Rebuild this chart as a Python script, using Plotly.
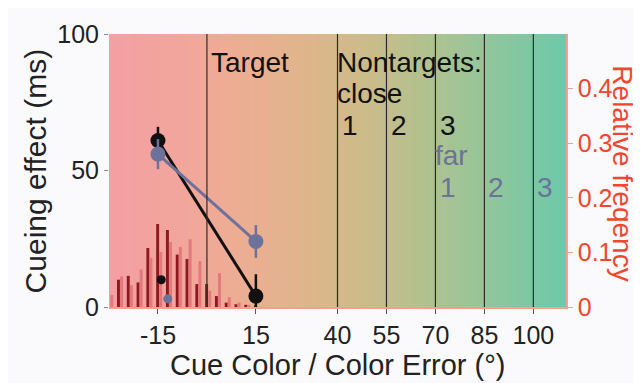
import numpy as np
import plotly.graph_objects as go

# ---------------- data ----------------
cue_colors = [-15, 15]
target_effect = [61, 4]          # black series
target_err = [5, 8]
nontarget_effect = [56, 24]      # gray-blue series
nontarget_err = [5.5, 6]

small_black_x = [-14]
small_black_y = [10]
small_gray_x = [-12]
small_gray_y = [3]

hist_bins = [-30, -27, -24, -21, -18, -15, -12, -9, -6, -3, 0, 3, 6, 9, 12, 15]
hist_dark = [0.0, 0.050, 0.057, 0.045, 0.108, 0.152, 0.141, 0.096, 0.088, 0.042, 0.042, 0.020, 0.008, 0.005, 0.004, 0.003]
hist_light = [0.022, 0.056, 0.040, 0.069, 0.090, 0.101, 0.119, 0.110, 0.124, 0.084, 0.030, 0.062, 0.018, 0.008, 0.004, 0.0]

x_ticks = [-15, 15, 40, 55, 70, 85, 100]
x_ticktext = ["-15", "15", "40", "55", "70", "85", "100"]
boundaries = [0, 40, 55, 70, 85, 100]
left_ticks = [0, 50, 100]
right_ticks = [0, 0.1, 0.2, 0.3, 0.4]
right_ticktext = ["0", "0.1", "0.2", "0.3", "0.4"]

FONT = "Liberation Sans, Arial, sans-serif"
BLACK = "#111111"
GRAY = "#6C729A"
RED = "#F0462D"
SALMON = "#F5A088"

fig = go.Figure()

# background gradient (heatmap on the right-hand axis layer)
edges = np.linspace(-30, 110, 281)
centers = (edges[:-1] + edges[1:]) / 2
fig.add_trace(go.Heatmap(
    x=edges, y=[0, 0.5], z=[centers],
    colorscale=[[0.0, "#F49FA3"], [0.15, "#F2A59C"], [0.30, "#ECAE92"],
                [0.45, "#DDB68A"], [0.55, "#CDBB89"], [0.66, "#B8C08D"],
                [0.77, "#A1C495"], [0.88, "#86C7A0"], [1.0, "#6DC9AB"]],
    zmin=-30, zmax=110, showscale=False, hoverinfo="skip",
    xaxis="x", yaxis="y"))

# histogram bars (relative frequency)
fig.add_trace(go.Bar(x=hist_bins, y=hist_dark, marker_color="#8E1A20",
                     width=0.9, offset=-0.55, xaxis="x", yaxis="y",
                     marker_line_width=0, showlegend=False))
fig.add_trace(go.Bar(x=hist_bins, y=hist_light, marker_color="#E3797C",
                     width=0.9, offset=0.4, xaxis="x", yaxis="y",
                     marker_line_width=0, showlegend=False))

# cueing effect lines
fig.add_trace(go.Scatter(
    x=cue_colors, y=target_effect, mode="lines+markers",
    line=dict(color=BLACK, width=3), marker=dict(color=BLACK, size=15),
    error_y=dict(type="data", array=target_err, color=BLACK, thickness=2.5, width=0),
    xaxis="x", yaxis="y2", showlegend=False))
fig.add_trace(go.Scatter(
    x=cue_colors, y=nontarget_effect, mode="lines+markers",
    line=dict(color=GRAY, width=3), marker=dict(color=GRAY, size=15),
    error_y=dict(type="data", array=nontarget_err, color=GRAY, thickness=2.5, width=0),
    xaxis="x", yaxis="y2", showlegend=False))
fig.add_trace(go.Scatter(x=small_black_x, y=small_black_y, mode="markers",
                         marker=dict(color=BLACK, size=9), xaxis="x", yaxis="y2",
                         showlegend=False))
fig.add_trace(go.Scatter(x=small_gray_x, y=small_gray_y, mode="markers",
                         marker=dict(color=GRAY, size=9), xaxis="x", yaxis="y2",
                         showlegend=False))

# boundaries
for b in boundaries:
    fig.add_shape(type="line", xref="x", yref="paper", x0=b, x1=b, y0=0, y1=1,
                  line=dict(color="#2A2A2A", width=1.2), layer="above")

ann = []
def txt(x, y, s, color=BLACK, xanchor="left", size=28):
    ann.append(dict(x=x, y=y, xref="x", yref="y2", text=s, showarrow=False,
                    xanchor=xanchor, yanchor="middle", borderpad=0,
                    font=dict(family=FONT, size=size, color=color)))

txt(0.8, 89.6, "Target")
txt(39.6, 89.6, "Nontargets:")
txt(39.6, 78.2, "close")
for b, s in zip([40, 55, 70], ["1", "2", "3"]):
    txt(b + 3.8, 66.6, s, xanchor="center")
txt(69.6, 55.4, "far", color=GRAY)
for b, s in zip([70, 85, 100], ["1", "2", "3"]):
    txt(b + 3.7, 43.8, s, color=GRAY, xanchor="center")

# axis titles
ann.append(dict(x=-0.16, y=0.5, xref="paper", yref="paper", text="Cueing effect (ms)",
                textangle=-90, showarrow=False, xanchor="center", yanchor="middle",
                font=dict(family=FONT, size=30, color="#222222")))
ann.append(dict(x=1.1245, y=0.49, xref="paper", yref="paper", text="Relative freqency",
                textangle=90, showarrow=False, xanchor="center", yanchor="middle",
                borderpad=0, font=dict(family=FONT, size=28, color=RED)))
ann.append(dict(x=0.5, y=-0.212, xref="paper", yref="paper",
                text="Cue Color / Color Error (°)",
                showarrow=False, xanchor="center", yanchor="middle",
                font=dict(family=FONT, size=29, color="#222222")))

fig.update_layout(
    width=641, height=383,
    margin=dict(l=101, r=83, t=23, b=84),
    paper_bgcolor="#FAFAFC", plot_bgcolor="#FAFAFC",
    font=dict(family=FONT),
    barmode="overlay",
    showlegend=False,
    annotations=ann,
    xaxis=dict(range=[-30, 110], tickvals=x_ticks, ticktext=x_ticktext,
               ticks="outside", ticklen=5,
               tickcolor="#555555", tickwidth=1.2,
               tickfont=dict(family=FONT, size=25, color="#222222"),
               showline=True, linecolor=SALMON, linewidth=1.5,
               showgrid=False, zeroline=False, fixedrange=True),
    yaxis=dict(range=[0, 0.5], side="right", tickvals=right_ticks, ticktext=right_ticktext,
               ticks="outside", ticklen=5, tickcolor=SALMON, tickwidth=1.2,
               tickfont=dict(family=FONT, size=25, color=RED),
               showline=True, linecolor=SALMON, linewidth=1.5,
               showgrid=False, zeroline=False),
    yaxis2=dict(range=[0, 100], side="left", overlaying="y", tickvals=left_ticks,
                ticks="outside", ticklen=4, tickcolor="#888888", tickwidth=1.2,
                tickfont=dict(family=FONT, size=25, color="#222222"),
                showline=False, showgrid=False, zeroline=False),
)

fig.write_html("out.html")
